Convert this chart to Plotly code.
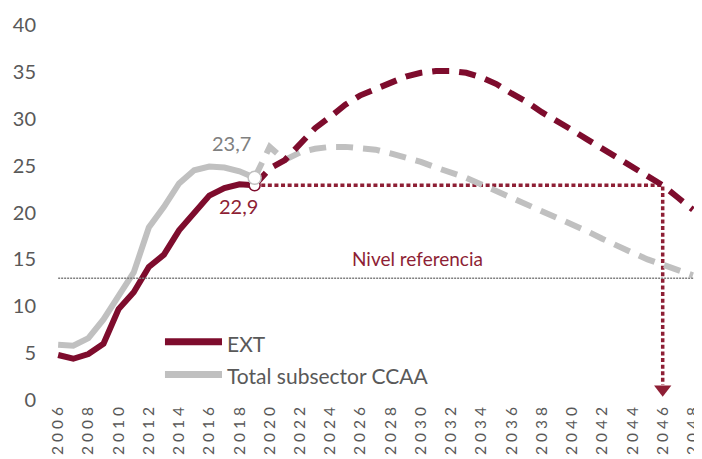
import plotly.graph_objects as go

# ---------------- data ----------------
years_hist = list(range(2006, 2020))
ext_hist = [4.8, 4.4, 4.9, 6.0, 9.7, 11.5, 14.2, 15.5, 18.1, 19.9, 21.8, 22.6, 23.0, 22.9]
ccaa_hist = [5.9, 5.8, 6.6, 8.6, 11.1, 13.6, 18.4, 20.6, 23.1, 24.5, 24.9, 24.8, 24.4, 23.7]

years_proj = list(range(2019, 2049))
ext_proj = [22.9, 24.7, 25.6, 27.3, 29.0, 30.2, 31.5, 32.5, 33.2, 33.9,
            34.5, 34.9, 35.1, 35.1, 34.9, 34.4, 33.7, 32.7, 31.8, 30.7,
            29.8, 28.8, 27.8, 26.8, 25.8, 24.8, 23.8, 22.9, 21.6, 20.3]
ccaa_proj = [23.7, 27.0, 25.6, 26.4, 26.8, 27.0, 27.0, 26.9, 26.7, 26.3,
             25.9, 25.4, 24.8, 24.3, 23.7, 23.0, 22.3, 21.6, 20.9, 20.2,
             19.5, 18.8, 18.0, 17.2, 16.4, 15.7, 15.0, 14.4, 13.8, 13.3]

series_names = ["EXT", "Total subsector CCAA"]
ref_level = 13.0
ref_label = "Nivel referencia"
ext_last = 22.9
ccaa_last = 23.7
ext_last_label = "22,9"
ccaa_last_label = "23,7"
base_year = 2019
target_year = 2046

tick_years = list(range(2006, 2049, 2))
tick_labels = [" ".join(str(y)) for y in tick_years]
y_ticks = [0, 5, 10, 15, 20, 25, 30, 35, 40]

# ---------------- style ----------------
RED = "#7E0C2D"
RED_TXT = "#8E1F35"
GRAY = "#C0C0C0"
TXT = "#595959"
FONT = "Lato, 'Open Sans', sans-serif"
X_RANGE = [2005.13, 2048.6]

fig = go.Figure()

# red dotted guide: from base point to target year, then down to axis
fig.add_trace(go.Scatter(
    x=[base_year, target_year, target_year], y=[ext_last, ext_last, 1.6],
    mode="lines", line=dict(color=RED_TXT, width=3.5, dash="4px,2.6px"),
    hoverinfo="skip", showlegend=False))
fig.add_trace(go.Scatter(
    x=[target_year], y=[1.15], mode="markers",
    marker=dict(symbol="triangle-down", size=15, color=RED_TXT),
    hoverinfo="skip", showlegend=False))

# gray series
fig.add_trace(go.Scatter(x=years_hist, y=ccaa_hist, mode="lines", name=series_names[1],
                         line=dict(color=GRAY, width=6), showlegend=False))
fig.add_trace(go.Scatter(x=years_proj, y=ccaa_proj, mode="lines", name=series_names[1] + " (proy.)",
                         line=dict(color=GRAY, width=6, dash="17px,10px"), showlegend=False))
# red series
fig.add_trace(go.Scatter(x=years_hist, y=ext_hist, mode="lines", name=series_names[0],
                         line=dict(color=RED, width=6), showlegend=False))
fig.add_trace(go.Scatter(x=years_proj, y=ext_proj, mode="lines", name=series_names[0] + " (proy.)",
                         line=dict(color=RED, width=6, dash="17px,10px"), showlegend=False))

# end-of-history circles
fig.add_trace(go.Scatter(x=[base_year], y=[ext_last], mode="markers",
                         marker=dict(size=11, color="white", line=dict(color=RED, width=1.5)),
                         hoverinfo="skip", showlegend=False))
fig.add_trace(go.Scatter(x=[base_year], y=[ccaa_last], mode="markers",
                         marker=dict(size=13, color="white", line=dict(color=GRAY, width=1.5)),
                         hoverinfo="skip", showlegend=False))

# reference level line
fig.add_shape(type="line", xref="x", yref="y", x0=years_hist[0], x1=X_RANGE[1],
              y0=ref_level, y1=ref_level, line=dict(color="#7F7F7F", width=1.5, dash="2px,1px"))

# annotations
fig.add_annotation(x=2017.5, y=27.4, text=ccaa_last_label, showarrow=False,
                   font=dict(family=FONT, size=20, color="#808080"))
fig.add_annotation(x=2017.9, y=20.7, text=ext_last_label, showarrow=False,
                   font=dict(family=FONT, size=20, color=RED_TXT))
fig.add_annotation(x=2029.8, y=15.1, text=ref_label, showarrow=False,
                   font=dict(family=FONT, size=19, color=RED_TXT))

# custom legend (long line samples)
legend_items = [(series_names[0], RED, 0.1553), (series_names[1], GRAY, 0.0681)]
for name, col, yp in legend_items:
    fig.add_shape(type="line", xref="paper", yref="paper", x0=0.1826, x1=0.2694,
                  y0=yp, y1=yp, line=dict(color=col, width=7))
    fig.add_annotation(xref="paper", yref="paper", x=0.274, y=yp - 0.004, text=name,
                       showarrow=False, xanchor="left", yanchor="middle",
                       font=dict(family=FONT, size=21, color=TXT))

# page body has an 8px margin: size/offset the figure so the plot area lands
# at the same window pixels as the reference
fig.update_layout(
    width=694, height=451,
    margin=dict(l=37, r=0, t=17, b=59),
    paper_bgcolor="white", plot_bgcolor="white",
    font=dict(family=FONT, color=TXT),
    showlegend=False,
    xaxis=dict(range=X_RANGE, tickvals=tick_years, ticktext=tick_labels, tickangle=-90,
               showgrid=False, zeroline=False, showline=False, ticks="",
               ticklabelstandoff=3, automargin=False, ticklabeloverflow="allow",
               tickfont=dict(family=FONT, size=15.5, color=TXT)),
    yaxis=dict(range=[0, 40], tickvals=y_ticks, showgrid=False, zeroline=False,
               showline=False, ticks="", ticklabelstandoff=8, automargin=False,
               tickfont=dict(family=FONT, size=20, color=TXT)),
)

fig.write_html("out.html")
